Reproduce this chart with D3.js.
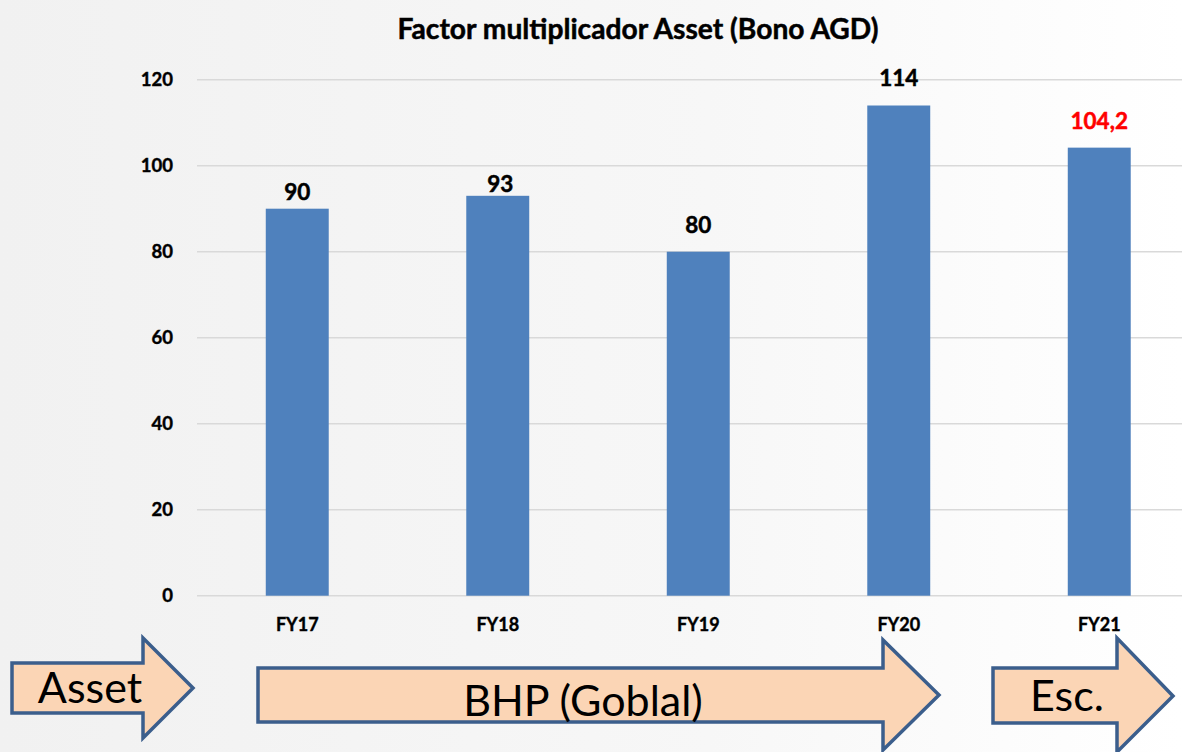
<!DOCTYPE html>
<html><head><meta charset="utf-8">
<script src="https://cdn.jsdelivr.net/npm/d3@7"></script>
<style>
html,body{margin:0;padding:0;background:#fff;}
svg{display:block;}
</style></head>
<body>
<svg id="chart" width="1182" height="752"></svg>
<script>
const categories = ["FY17","FY18","FY19","FY20","FY21"];
const values = [90, 93, 80, 114, 104.2];
const valueLabels = ["90","93","80","114","104,2"];
const labelColors = ["#000","#000","#000","#000","#FF0000"];
const yTicks = [0,20,40,60,80,100,120];
const arrowLabels = ["Asset","BHP (Goblal)","Esc."];

const W = 1182, H = 752;
const svg = d3.select("#chart");
const font = "Lato, 'Open Sans', sans-serif";

// background
const defs = svg.append("defs");
const g0 = defs.append("linearGradient").attr("id","bg").attr("x1","0").attr("x2","1").attr("y1","0").attr("y2","0");
g0.append("stop").attr("offset","0").attr("stop-color","#f1f1f1");
g0.append("stop").attr("offset","0.6").attr("stop-color","#f7f7f7");
g0.append("stop").attr("offset","1").attr("stop-color","#ffffff");
svg.append("rect").attr("width",W).attr("height",H).attr("fill","url(#bg)");

const x = d3.scaleBand().domain(categories).range([197, 1199.5]).paddingInner(0.686).paddingOuter(0.343);
const y = d3.scaleLinear().domain([0,120]).range([595.7, 79.7]);

// title
svg.append("text").attr("x",638).attr("y",39).attr("text-anchor","middle")
  .attr("font-family",font).attr("font-weight","bold").attr("font-size",28.2).attr("fill","#000")
  .attr("stroke","#000").attr("stroke-width",0.5)
  .text("Factor multiplicador Asset (Bono AGD)");

// gridlines
svg.append("g").selectAll("line").data(yTicks).join("line")
  .attr("x1",197).attr("x2",W).attr("y1",d=>y(d)).attr("y2",d=>y(d))
  .attr("stroke","#d9d9d9").attr("stroke-width",1.6);

// y axis
const yAxis = d3.axisLeft(y).tickValues(yTicks).tickSize(0).tickPadding(0).tickFormat(d3.format("d"));
const ya = svg.append("g").attr("transform","translate(173,0)").call(yAxis);
ya.select(".domain").remove();
ya.selectAll("text").attr("font-family",font).attr("font-weight","bold").attr("font-size",18.5)
  .attr("fill","#000").attr("stroke","#000").attr("stroke-width",0.4);

// x axis
const xAxis = d3.axisBottom(x).tickSize(0).tickPadding(0);
const xa = svg.append("g").attr("transform","translate(0,618)").call(xAxis);
xa.select(".domain").remove();
xa.selectAll("text").attr("font-family",font).attr("font-weight","bold").attr("font-size",18)
  .attr("fill","#000").attr("stroke","#000").attr("stroke-width",0.4);

// bars
svg.append("g").selectAll("rect").data(categories).join("rect")
  .attr("x",d=>x(d)).attr("width",x.bandwidth())
  .attr("y",(d,i)=>y(values[i])).attr("height",(d,i)=>y(0)-y(values[i]))
  .attr("fill","#4F81BD");

// value labels (manually placed in the original)
const labelGap = [9, 3.5, 19, 19.5, 19];
const labelShift = [0, 2.5, 0, 0, 0];
svg.append("g").selectAll("text").data(categories).join("text")
  .attr("x",(d,i)=>x(d)+x.bandwidth()/2+labelShift[i]).attr("y",(d,i)=>y(values[i])-labelGap[i])
  .attr("text-anchor","middle").attr("font-family",font).attr("font-weight","bold")
  .attr("font-size",22.5).attr("fill",(d,i)=>labelColors[i])
  .attr("stroke",(d,i)=>labelColors[i]).attr("stroke-width",0.5)
  .text((d,i)=>valueLabels[i]);

// block arrows (annotations)
const arrows = [
  {x0:12, hx:143, tip:193, cy:688, bt:663, bb:713, ht:638, hb:738, tx:90, ty:703},
  {x0:258, hx:883, tip:939, cy:695, bt:668, bb:722, ht:640, hb:750, tx:583, ty:716},
  {x0:993, hx:1117, tip:1173, cy:696, bt:668, bb:723, ht:638, hb:752, tx:1067, ty:711}
];
arrows.forEach((a,i)=>{
  const p = d3.path();
  p.moveTo(a.x0,a.bt); p.lineTo(a.hx,a.bt); p.lineTo(a.hx,a.ht); p.lineTo(a.tip,a.cy);
  p.lineTo(a.hx,a.hb); p.lineTo(a.hx,a.bb); p.lineTo(a.x0,a.bb); p.closePath();
  svg.append("path").attr("d",p.toString()).attr("fill","#FBD5B5")
    .attr("stroke","#3B5E8C").attr("stroke-width",3.5).attr("stroke-linejoin","miter");
  svg.append("text").attr("x",a.tx).attr("y",a.ty).attr("text-anchor","middle")
    .attr("font-family",font).attr("font-size",43).attr("fill","#000").text(arrowLabels[i]);
});
</script>
</body></html>
